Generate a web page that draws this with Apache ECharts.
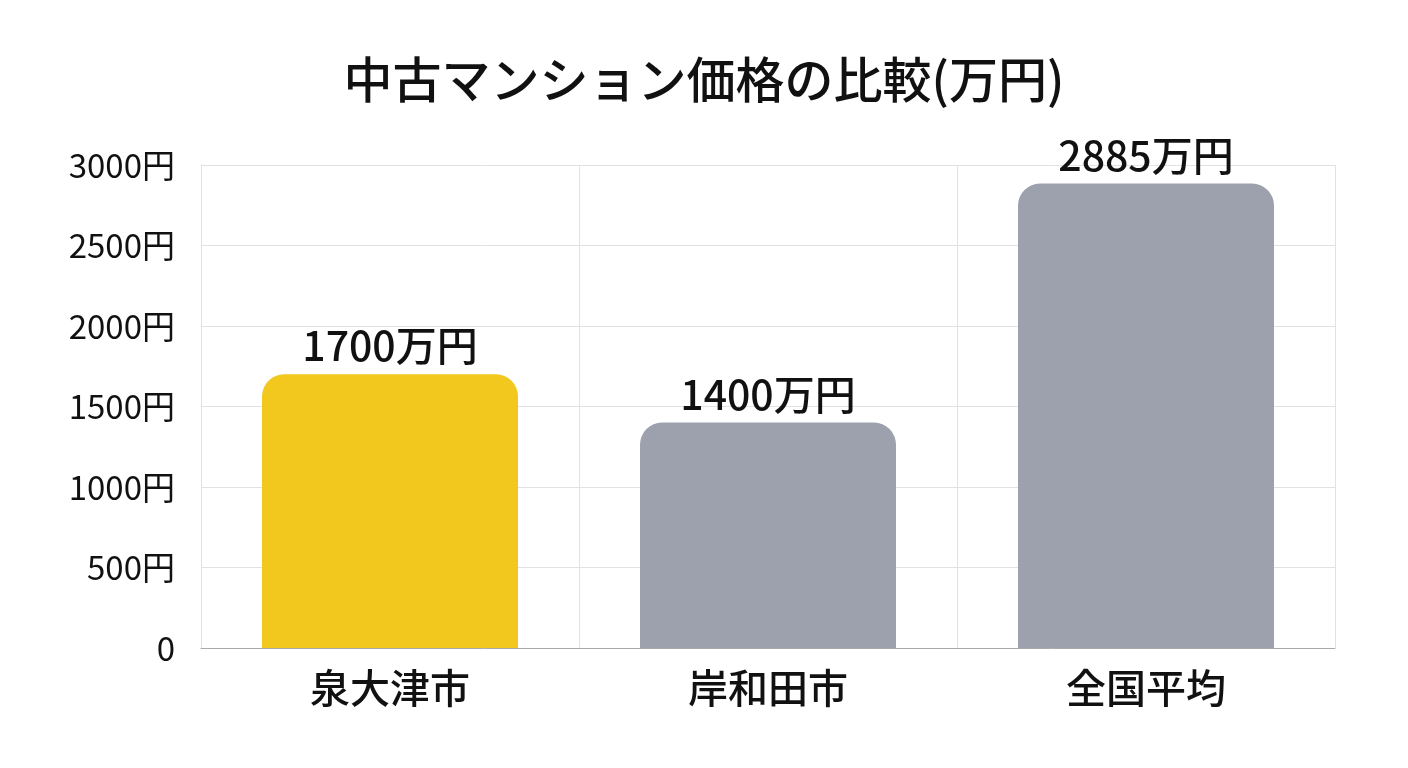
<!DOCTYPE html>
<html><head><meta charset="utf-8">
<script src="https://cdn.jsdelivr.net/npm/echarts@6/dist/echarts.min.js"></script>
<style>html,body{margin:0;background:#fff}#c{width:1408px;height:768px}</style>
</head><body><div id="c"></div>
<script>
const categories = ['泉大津市', '岸和田市', '全国平均'];
const prices = [1700, 1400, 2885];
const barColors = ['#F2C81F', '#9CA1AD', '#9CA1AD'];
const font = '"Noto Sans CJK JP", "Noto Sans", sans-serif';

const chart = echarts.init(document.getElementById('c'));
chart.setOption({
    title: {
        text: '中古マンション価格の比較(万円)',
        left: 'center', top: 50,
        textStyle: { fontFamily: font, fontSize: 49, fontWeight: 500, color: '#111' }
    },
    grid: { left: 201, right: 73, top: 165, bottom: 120 },
    xAxis: {
        type: 'category',
        data: categories,
        axisTick: { show: false },
        axisLine: { lineStyle: { color: '#aaa' } },
        axisLabel: { fontFamily: font, fontSize: 40, fontWeight: 500, color: '#111', margin: 20 },
        splitLine: { show: true, lineStyle: { color: '#e2e2e2' } }
    },
    yAxis: {
        type: 'value',
        min: 0, max: 3000, interval: 500,
        axisLine: { show: true, lineStyle: { color: '#e2e2e2' } },
        axisLabel: {
            fontFamily: font, fontSize: 33, color: '#111', margin: 26,
            formatter: v => v === 0 ? '0' : v + '円'
        },
        splitLine: { lineStyle: { color: '#e2e2e2' } }
    },
    series: [{
        type: 'bar',
        barWidth: 256,
        data: prices.map((v, i) => ({ value: v, itemStyle: { color: barColors[i] } })),
        itemStyle: { borderRadius: [22, 22, 0, 0] },
        label: {
            show: true, position: 'top', distance: 8,
            fontFamily: font, fontSize: 41, fontWeight: 500, color: '#111',
            formatter: p => p.value + '万円'
        }
    }]
});
</script></body></html>
